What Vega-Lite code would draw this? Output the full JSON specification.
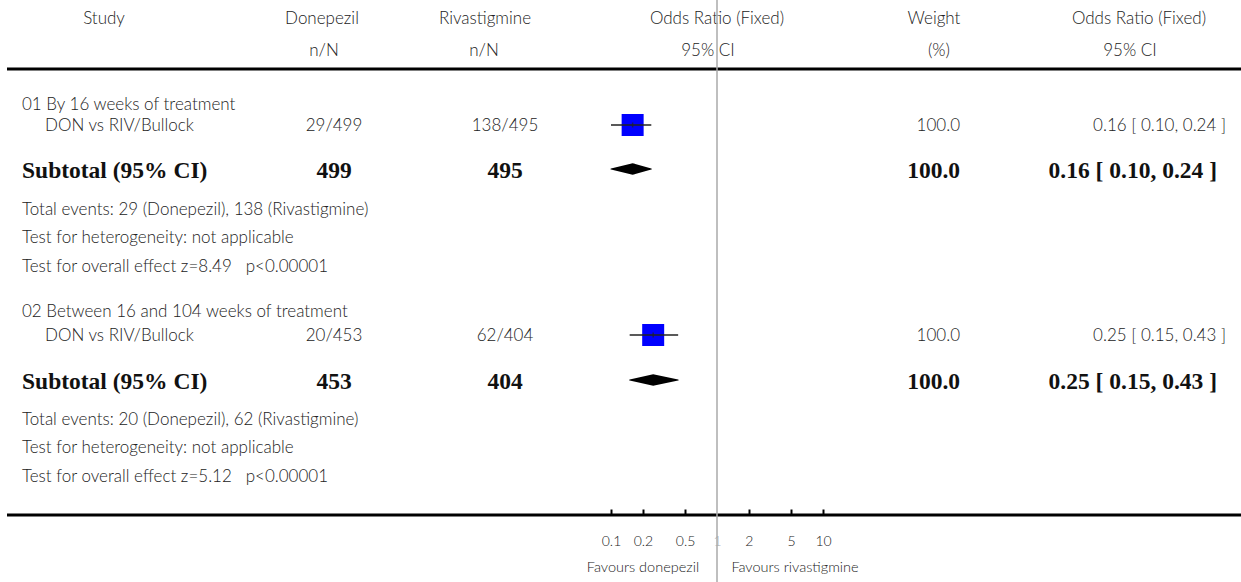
{
  "$schema": "https://vega.github.io/schema/vega-lite/v6.json",
  "width": 1241,
  "height": 582,
  "autosize": {"type": "none"},
  "padding": 0,
  "background": "white",
  "config": {"view": {"stroke": null}},
  "datasets": {
    "cells": [
      {"row": 1, "c": 3, "part": "header", "text": "Study"},
      {"row": 1, "c": 4, "part": "header", "text": "Donepezil"},
      {"row": 1, "c": 8, "part": "header", "text": "Rivastigmine"},
      {"row": 1, "c": 12, "part": "header", "text": "Odds Ratio (Fixed)"},
      {"row": 1, "c": 14, "part": "header", "text": "Weight"},
      {"row": 1, "c": 18, "part": "header", "text": "Odds Ratio (Fixed)"},
      {"row": 2, "c": 5, "part": "header", "text": "n/N"},
      {"row": 2, "c": 7, "part": "header", "text": "n/N"},
      {"row": 2, "c": 11, "part": "header", "text": "95% CI"},
      {"row": 2, "c": 15, "part": "header", "text": "(%)"},
      {"row": 2, "c": 17, "part": "header", "text": "95% CI"},
      {"row": 3, "c": 1, "part": "section", "text": "01 By 16 weeks of treatment"},
      {"row": 4, "c": 2, "part": "study", "text": "DON vs RIV/Bullock"},
      {"row": 4, "c": 6, "part": "count", "text": "29/499"},
      {"row": 4, "c": 9, "part": "count", "text": "138/495"},
      {"row": 4, "c": 16, "part": "result", "text": "100.0"},
      {"row": 4, "c": 20, "part": "result", "text": "0.16 [ 0.10, 0.24 ]"},
      {"row": 5, "c": 1, "part": "subtotal", "text": "Subtotal (95% CI)"},
      {"row": 5, "c": 6, "part": "subcount", "text": "499"},
      {"row": 5, "c": 9, "part": "subcount", "text": "495"},
      {"row": 5, "c": 16, "part": "subresult", "text": "100.0"},
      {"row": 5, "c": 19, "part": "subresult", "text": "0.16 [ 0.10, 0.24 ]"},
      {"row": 6, "c": 1, "part": "note", "text": "Total events: 29 (Donepezil), 138 (Rivastigmine)"},
      {"row": 7, "c": 1, "part": "note", "text": "Test for heterogeneity: not applicable"},
      {"row": 8, "c": 1, "part": "note", "text": "Test for overall effect z=8.49\u00a0\u00a0\u00a0p<0.00001"},
      {"row": 9, "c": 1, "part": "section", "text": "02 Between 16 and 104 weeks of treatment"},
      {"row": 10, "c": 2, "part": "study", "text": "DON vs RIV/Bullock"},
      {"row": 10, "c": 6, "part": "count", "text": "20/453"},
      {"row": 10, "c": 9, "part": "count", "text": "62/404"},
      {"row": 10, "c": 16, "part": "result", "text": "100.0"},
      {"row": 10, "c": 20, "part": "result", "text": "0.25 [ 0.15, 0.43 ]"},
      {"row": 11, "c": 1, "part": "subtotal", "text": "Subtotal (95% CI)"},
      {"row": 11, "c": 6, "part": "subcount", "text": "453"},
      {"row": 11, "c": 9, "part": "subcount", "text": "404"},
      {"row": 11, "c": 16, "part": "subresult", "text": "100.0"},
      {"row": 11, "c": 19, "part": "subresult", "text": "0.25 [ 0.15, 0.43 ]"},
      {"row": 12, "c": 1, "part": "note", "text": "Total events: 20 (Donepezil), 62 (Rivastigmine)"},
      {"row": 13, "c": 1, "part": "note", "text": "Test for heterogeneity: not applicable"},
      {"row": 14, "c": 1, "part": "note", "text": "Test for overall effect z=5.12\u00a0\u00a0\u00a0p<0.00001"},
      {"row": 16, "c": 10, "part": "favours", "text": "Favours donepezil"},
      {"row": 16, "c": 13, "part": "favours", "text": "Favours rivastigmine"}
    ],
    "rules": [
      {"row": 2.5, "from": 0, "to": 21},
      {"row": 14.5, "from": 0, "to": 21}
    ],
    "studies": [
      {"group": 1, "row": 4, "or": 0.16, "lo": 0.10, "hi": 0.24, "weight": 100},
      {"group": 2, "row": 10, "or": 0.25, "lo": 0.15, "hi": 0.43, "weight": 100}
    ],
    "pooled": [
      {"group": 1, "row": 5, "or": 0.10, "is_estimate": 0},
      {"group": 1, "row": 5, "or": 0.16, "is_estimate": 1},
      {"group": 1, "row": 5, "or": 0.24, "is_estimate": 0},
      {"group": 2, "row": 11, "or": 0.15, "is_estimate": 0},
      {"group": 2, "row": 11, "or": 0.25, "is_estimate": 1},
      {"group": 2, "row": 11, "or": 0.43, "is_estimate": 0}
    ],
    "null_effect": [
      {"or": 1}
    ]
  },
  "resolve": {"scale": {"x": "independent"}, "axis": {"x": "independent"}},
  "layer": [
    {
      "layer": [
        {
          "data": {"name": "rules"},
          "mark": {"type": "rule", "color": "black", "strokeWidth": 3},
          "encoding": {
            "x": {"field": "from", "type": "quantitative", "axis": null,
              "scale": {"domain": [0,1,2,3,4,5,6,7,8,9,10,11,12,13,14,15,16,17,18,19,20,21], "range": [7,22,45,104,322,324,334,484,485,505,643,708,717,795,934,939,960,1130,1139,1217,1226,1241], "nice": false, "zero": false}},
            "x2": {"field": "to"},
            "y": {"field": "row", "type": "quantitative", "axis": null,
              "scale": {"domain": [0,1,2,2.5,3,4,5,6,7,8,9,10,11,12,13,14,14.5,15,16,17], "range": [0,18,50,69,104,125,169,209,237,266,311,335,380,419,447,476,515,541,568,582], "nice": false, "zero": false}}
          }
        },
        {
          "data": {"name": "cells"},
          "transform": [{"filter": {"field": "part", "oneOf": ["section", "study", "note"]}}],
          "mark": {"type": "text", "align": "left", "baseline": "middle", "font": "Lato", "fontWeight": 300, "fontSize": 17, "color": "#222", "dy": 1},
          "encoding": {
            "x": {"field": "c", "type": "quantitative", "axis": null},
            "y": {"field": "row", "type": "quantitative", "axis": null},
            "text": {"field": "text"}
          }
        },
        {
          "data": {"name": "cells"},
          "transform": [{"filter": {"field": "part", "oneOf": ["header", "count"]}}],
          "mark": {"type": "text", "align": "center", "baseline": "middle", "font": "Lato", "fontWeight": 300, "fontSize": 17, "color": "#222", "dy": 1},
          "encoding": {
            "x": {"field": "c", "type": "quantitative", "axis": null},
            "y": {"field": "row", "type": "quantitative", "axis": null},
            "text": {"field": "text"}
          }
        },
        {
          "data": {"name": "cells"},
          "transform": [{"filter": {"field": "part", "equal": "result"}}],
          "mark": {"type": "text", "align": "right", "baseline": "middle", "font": "Lato", "fontWeight": 300, "fontSize": 17, "color": "#222", "dy": 1},
          "encoding": {
            "x": {"field": "c", "type": "quantitative", "axis": null},
            "y": {"field": "row", "type": "quantitative", "axis": null},
            "text": {"field": "text"}
          }
        },
        {
          "data": {"name": "cells"},
          "transform": [{"filter": {"field": "part", "equal": "favours"}}],
          "mark": {"type": "text", "align": "center", "baseline": "middle", "font": "Lato", "fontWeight": 300, "fontSize": 14.5, "color": "#222"},
          "encoding": {
            "x": {"field": "c", "type": "quantitative", "axis": null},
            "y": {"field": "row", "type": "quantitative", "axis": null},
            "text": {"field": "text"}
          }
        },
        {
          "data": {"name": "cells"},
          "transform": [{"filter": {"field": "part", "equal": "subtotal"}}],
          "mark": {"type": "text", "align": "left", "baseline": "middle", "font": "Liberation Serif", "fontWeight": "bold", "fontSize": 23.5, "color": "#111", "dy": 2},
          "encoding": {
            "x": {"field": "c", "type": "quantitative", "axis": null},
            "y": {"field": "row", "type": "quantitative", "axis": null},
            "text": {"field": "text"}
          }
        },
        {
          "data": {"name": "cells"},
          "transform": [{"filter": {"field": "part", "equal": "subcount"}}],
          "mark": {"type": "text", "align": "center", "baseline": "middle", "font": "Liberation Serif", "fontWeight": "bold", "fontSize": 23.5, "color": "#111", "dy": 2},
          "encoding": {
            "x": {"field": "c", "type": "quantitative", "axis": null},
            "y": {"field": "row", "type": "quantitative", "axis": null},
            "text": {"field": "text"}
          }
        },
        {
          "data": {"name": "cells"},
          "transform": [{"filter": {"field": "part", "equal": "subresult"}}],
          "mark": {"type": "text", "align": "right", "baseline": "middle", "font": "Liberation Serif", "fontWeight": "bold", "fontSize": 23.5, "color": "#111", "dy": 2},
          "encoding": {
            "x": {"field": "c", "type": "quantitative", "axis": null},
            "y": {"field": "row", "type": "quantitative", "axis": null},
            "text": {"field": "text"}
          }
        }
      ]
    },
    {
      "resolve": {"scale": {"size": "independent"}},
      "layer": [
        {
          "data": {"name": "studies"},
          "mark": {"type": "point", "shape": "square", "filled": true, "color": "#0000ff", "opacity": 1},
          "encoding": {
            "x": {"field": "or", "type": "quantitative",
              "scale": {"type": "log", "domain": [0.1, 10], "range": [611, 823], "nice": false},
              "axis": {"title": null, "values": [0.1, 0.2, 0.5, 1, 2, 5, 10], "format": "~g", "domain": false, "grid": false, "offset": -67, "tickSize": -6, "tickWidth": 2, "tickColor": {"condition": {"test": "datum.value == 1", "value": "transparent"}, "value": "black"}, "labelPadding": 25, "labelFlush": false, "labelOverlap": false, "labelFont": "Lato", "labelFontWeight": 300, "labelFontSize": 14, "labelColor": {"condition": {"test": "datum.value == 1", "value": "#aaaaaa"}, "value": "#222"}}},
            "y": {"field": "row", "type": "quantitative", "axis": null},
            "size": {"field": "weight", "type": "quantitative", "legend": null, "scale": {"domain": [0, 100], "range": [0, 484]}}
          }
        },
        {
          "data": {"name": "studies"},
          "mark": {"type": "rule", "color": "#222", "strokeWidth": 1.5},
          "encoding": {
            "x": {"field": "lo", "type": "quantitative",
              "axis": {"title": null, "values": [0.1, 0.2, 0.5, 1, 2, 5, 10], "format": "~g", "domain": false, "grid": false, "offset": -67, "tickSize": -6, "tickWidth": 2, "tickColor": {"condition": {"test": "datum.value == 1", "value": "transparent"}, "value": "black"}, "labelPadding": 25, "labelFlush": false, "labelOverlap": false, "labelFont": "Lato", "labelFontWeight": 300, "labelFontSize": 14, "labelColor": {"condition": {"test": "datum.value == 1", "value": "#aaaaaa"}, "value": "#222"}}},
            "x2": {"field": "hi"},
            "y": {"field": "row", "type": "quantitative", "axis": null}
          }
        },
        {
          "data": {"name": "studies"},
          "mark": {"type": "tick", "orient": "vertical", "color": "#222", "thickness": 1.5, "size": 5},
          "encoding": {
            "x": {"field": "or", "type": "quantitative",
              "axis": {"title": null, "values": [0.1, 0.2, 0.5, 1, 2, 5, 10], "format": "~g", "domain": false, "grid": false, "offset": -67, "tickSize": -6, "tickWidth": 2, "tickColor": {"condition": {"test": "datum.value == 1", "value": "transparent"}, "value": "black"}, "labelPadding": 25, "labelFlush": false, "labelOverlap": false, "labelFont": "Lato", "labelFontWeight": 300, "labelFontSize": 14, "labelColor": {"condition": {"test": "datum.value == 1", "value": "#aaaaaa"}, "value": "#222"}}},
            "y": {"field": "row", "type": "quantitative", "axis": null}
          }
        },
        {
          "data": {"name": "pooled"},
          "mark": {"type": "trail", "color": "black"},
          "encoding": {
            "x": {"field": "or", "type": "quantitative",
              "axis": {"title": null, "values": [0.1, 0.2, 0.5, 1, 2, 5, 10], "format": "~g", "domain": false, "grid": false, "offset": -67, "tickSize": -6, "tickWidth": 2, "tickColor": {"condition": {"test": "datum.value == 1", "value": "transparent"}, "value": "black"}, "labelPadding": 25, "labelFlush": false, "labelOverlap": false, "labelFont": "Lato", "labelFontWeight": 300, "labelFontSize": 14, "labelColor": {"condition": {"test": "datum.value == 1", "value": "#aaaaaa"}, "value": "#222"}}},
            "y": {"field": "row", "type": "quantitative", "axis": null},
            "detail": {"field": "group", "type": "nominal"},
            "size": {"field": "is_estimate", "type": "quantitative", "legend": null, "scale": {"domain": [0, 1], "range": [0, 11.5]}}
          }
        },
        {
          "data": {"name": "null_effect"},
          "mark": {"type": "rule", "color": "#aaaaaa", "strokeWidth": 1.5},
          "encoding": {
            "x": {"field": "or", "type": "quantitative",
              "axis": {"title": null, "values": [0.1, 0.2, 0.5, 1, 2, 5, 10], "format": "~g", "domain": false, "grid": false, "offset": -67, "tickSize": -6, "tickWidth": 2, "tickColor": {"condition": {"test": "datum.value == 1", "value": "transparent"}, "value": "black"}, "labelPadding": 25, "labelFlush": false, "labelOverlap": false, "labelFont": "Lato", "labelFontWeight": 300, "labelFontSize": 14, "labelColor": {"condition": {"test": "datum.value == 1", "value": "#aaaaaa"}, "value": "#222"}}}
          }
        }
      ]
    }
  ]
}
